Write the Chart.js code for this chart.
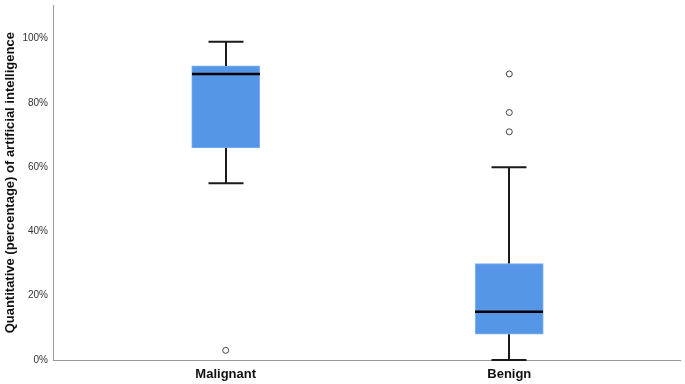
<!DOCTYPE html>
<html>
<head>
<meta charset="utf-8">
<script src="https://cdn.jsdelivr.net/npm/chart.js@4.4.1/dist/chart.umd.min.js"></script>
<style>
  html, body { margin: 0; padding: 0; background: #fff; }
  #wrap { width: 685px; height: 384px; }
</style>
</head>
<body>
<div id="wrap"><canvas id="myChart"></canvas></div>
<script>
// box plot values (percent)
const categories = ['Malignant', 'Benign'];
const whiskerLow = [55, 0];
const q1 = [66, 8];
const median = [89, 15];
const q3 = [91.5, 30];
const whiskerHigh = [99, 60];
const outliers = [[3], [89, 77, 71]];
const yTicks = [0, 20, 40, 60, 80, 100];

const boxData = categories.map((c, i) => ({ x: i, y: [q1[i], q3[i]] }));
const outlierData = [];
outliers.forEach((list, i) => list.forEach(v => outlierData.push({ x: i, y: v })));

// whiskers, caps and median lines
const boxLines = {
    id: 'boxLines',
    afterDatasetsDraw(chart) {
        const ctx = chart.ctx;
        const xs = chart.scales.x;
        const ys = chart.scales.y;
        const boxW = 68;
        const capW = 35;
        ctx.save();
        ctx.lineCap = 'butt';
        categories.forEach((c, i) => {
            const cx = Math.round(xs.getPixelForValue(i));
            ctx.strokeStyle = '#1a1a1a';
            ctx.lineWidth = 2;
            ctx.beginPath();
            ctx.moveTo(cx, ys.getPixelForValue(q3[i]));
            ctx.lineTo(cx, ys.getPixelForValue(whiskerHigh[i]));
            ctx.moveTo(cx, ys.getPixelForValue(q1[i]));
            ctx.lineTo(cx, ys.getPixelForValue(whiskerLow[i]));
            ctx.moveTo(cx - capW / 2, ys.getPixelForValue(whiskerHigh[i]));
            ctx.lineTo(cx + capW / 2, ys.getPixelForValue(whiskerHigh[i]));
            ctx.moveTo(cx - capW / 2, ys.getPixelForValue(whiskerLow[i]));
            ctx.lineTo(cx + capW / 2, ys.getPixelForValue(whiskerLow[i]));
            ctx.stroke();
            ctx.strokeStyle = '#000';
            ctx.lineWidth = 2.5;
            ctx.beginPath();
            ctx.moveTo(cx - boxW / 2, ys.getPixelForValue(median[i]));
            ctx.lineTo(cx + boxW / 2, ys.getPixelForValue(median[i]));
            ctx.stroke();
        });
        ctx.restore();
    }
};

const ctx = document.getElementById('myChart').getContext('2d');
const myChart = new Chart(ctx, {
    type: 'bar',
    data: {
        datasets: [{
            type: 'bar',
            data: boxData,
            backgroundColor: '#5596e6',
            borderColor: '#7eaff0',
            borderWidth: 1,
            borderSkipped: false,
            barThickness: 68,
            grouped: false,
            order: 2
        }, {
            type: 'scatter',
            data: outlierData,
            pointStyle: 'circle',
            pointRadius: 3,
            pointBackgroundColor: '#fff',
            pointBorderColor: '#444',
            pointBorderWidth: 1,
            order: 1
        }]
    },
    options: {
        responsive: true,
        maintainAspectRatio: false,
        animation: false,
        layout: { padding: { top: 0, right: 0, bottom: 0, left: 0 } },
        plugins: {
            legend: { display: false },
            tooltip: { enabled: false }
        },
        scales: {
            x: {
                type: 'linear',
                offset: false,
                min: -0.609,
                max: 1.602,
                grid: { display: false, drawTicks: false, offset: false },
                border: { color: '#999', width: 1 },
                afterBuildTicks: scale => { scale.ticks = categories.map((c, i) => ({ value: i })); },
                afterFit: scale => { scale.height = 24; },
                ticks: {
                    padding: 7,
                    color: '#111',
                    font: { family: 'Liberation Sans, Arial', size: 13, weight: 'bold' },
                    callback: v => categories[v]
                }
            },
            y: {
                min: 0,
                max: 110.3,
                grid: { display: false, drawTicks: false },
                border: { color: '#999', width: 1 },
                afterBuildTicks: scale => { scale.ticks = yTicks.map(v => ({ value: v })); },
                afterFit: scale => { scale.width = 53; },
                ticks: {
                    padding: 5,
                    color: '#333',
                    font: { family: 'Liberation Sans, Arial', size: 10, lineHeight: 0.1 },
                    callback: v => v + '%'
                },
                title: {
                    display: true,
                    text: 'Quantitative (percentage) of artificial intelligence',
                    color: '#111',
                    padding: { top: 3, bottom: 0 },
                    font: { family: 'Liberation Sans, Arial', size: 13, weight: 'bold' }
                }
            }
        }
    },
    plugins: [boxLines]
});
</script>
</body>
</html>
